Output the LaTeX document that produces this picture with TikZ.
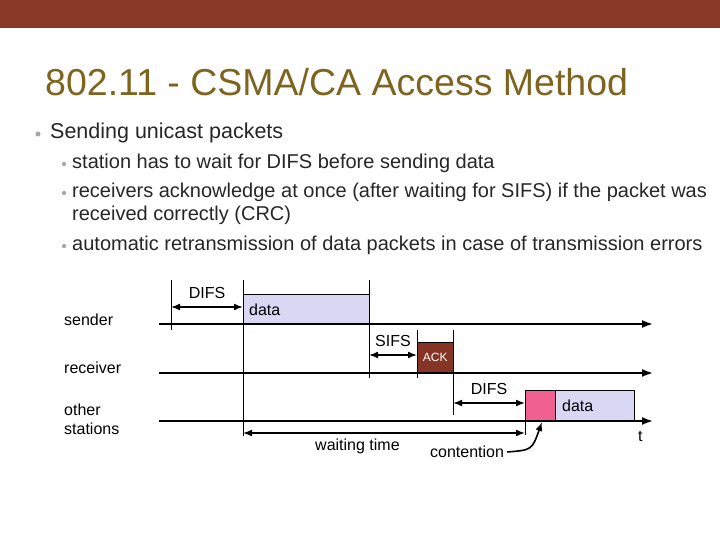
\documentclass[tikz,border=0pt]{standalone}
\usepackage{fontspec}
\setmainfont{Liberation Sans}
\usetikzlibrary{arrows.meta}
\begin{document}
\begin{tikzpicture}[x=1pt,y=-1pt,
  lbl/.style={inner sep=0,anchor=west,font=\fontsize{16}{19}\selectfont},
  axis/.style={line width=1.8pt,-{Latex[length=11pt,width=8pt]}},
  tick/.style={line width=0.7pt},
  dim/.style={line width=1.6pt,{Latex[length=9pt,width=7pt]}-{Latex[length=9pt,width=7pt]}},
  box/.style={draw,line width=0.6pt},
  bul/.style={inner sep=0,anchor=west,text=black!85},
  dot/.style={circle,fill=gray!70,inner sep=1.8pt}]
\useasboundingbox (0,0) rectangle (720,540);
\fill[fill={rgb,255:red,137;green,55;blue,39}] (0,0) rectangle (720,28);
\node[inner sep=0,anchor=west,text={rgb,255:red,126;green,100;blue,30},font=\fontsize{37.5}{44}\selectfont] (title) at (45,82) {802.11 - CSMA/CA Access Method};
\node[dot] (d1) at (38,134) {};
\node[bul,font=\fontsize{21.5}{26}\selectfont] (b1) at (50,133) {Sending unicast packets};
\node[dot,inner sep=1.5pt] (d2) at (64,164) {};
\node[bul,font=\fontsize{20}{23}\selectfont] (s1) at (72,163) {station has to wait for DIFS before sending data};
\node[dot,inner sep=1.5pt] (d3) at (64,193) {};
\node[bul,font=\fontsize{20}{23}\selectfont] (s2) at (72,192) {receivers acknowledge at once (after waiting for SIFS) if the packet was};
\node[bul,font=\fontsize{20}{23}\selectfont] (s2b) at (72,215) {received correctly (CRC)};
\node[dot,inner sep=1.5pt] (d4) at (64,246) {};
\node[bul,font=\fontsize{20}{23}\selectfont] (s3) at (72,245) {automatic retransmission of data packets in case of transmission errors};
% row labels
\node[lbl] (ls) at (64,320) {sender};
\node[lbl] (lr) at (64,368) {receiver};
\node[lbl,align=left] (lo) at (64,419) {other\\stations};
% boxes
\node[box,fill={rgb,255:red,216;green,216;blue,244},minimum width=126,minimum height=30,anchor=north west,inner sep=0] (data1) at (243,294) {};
\node[lbl] (data1t) at (249,310) {data};
\node[box,fill={rgb,255:red,134;green,52;blue,36},minimum width=36,minimum height=31,anchor=north west,inner sep=0,text=white,font=\fontsize{12}{14}\selectfont] (ack) at (417,342) {ACK};
\node[box,fill={rgb,255:red,240;green,96;blue,144},minimum width=30,minimum height=30,anchor=north west,inner sep=0] (pink) at (525,390) {};
\node[box,fill={rgb,255:red,216;green,216;blue,244},minimum width=79,minimum height=30,anchor=north west,inner sep=0] (data2) at (555,390) {};
\node[lbl] (data2t) at (562,406) {data};
% ticks
\coordinate (t1a) at (171,280); \coordinate (t1b) at (171,330);
\coordinate (t2a) at (243,280); \coordinate (t2b) at (243,436);
\coordinate (t3a) at (369,280); \coordinate (t3b) at (369,378);
\coordinate (t4a) at (417,330); \coordinate (t4b) at (417,378);
\coordinate (t5a) at (453,330); \coordinate (t5b) at (453,415);
\coordinate (t6a) at (525,390); \coordinate (t6b) at (525,435);
\foreach \a/\b in {t1a/t1b,t2a/t2b,t3a/t3b,t4a/t4b,t5a/t5b,t6a/t6b} \draw[tick] (\a) -- (\b);
% axes
\coordinate (s0) at (159,324); \coordinate (s1e) at (653,324);
\coordinate (r0) at (159,373); \coordinate (r1e) at (653,373);
\coordinate (o0) at (159,421); \coordinate (o1e) at (653,421);
\draw[axis] (s0) -- (s1e);
\draw[axis] (r0) -- (r1e);
\draw[axis] (o0) -- (o1e);
\node[lbl] (tt) at (638,436) {t};
% dims
\coordinate (a1) at (171,307); \coordinate (a2) at (243,307);
\draw[dim] (a1) -- (a2) node[midway,above=4pt,font=\fontsize{16}{19}\selectfont] (difs1) {DIFS};
\coordinate (b1a) at (369,355); \coordinate (b2a) at (417,355);
\draw[dim] (b1a) -- (b2a) node[midway,above=4pt,font=\fontsize{16}{19}\selectfont] (sifs) {SIFS};
\coordinate (c1) at (453,403); \coordinate (c2) at (525,403);
\draw[dim] (c1) -- (c2) node[midway,above=4pt,font=\fontsize{16}{19}\selectfont] (difs2) {DIFS};
\coordinate (w1) at (243,433); \coordinate (w2) at (525,433);
\draw[dim] (w1) -- (w2);
\node[lbl] (wt) at (315,446) {waiting time};
\node[lbl] (ct) at (430,452) {contention};
\coordinate (cend) at (542,422);
\draw[line width=1.6pt,-{Latex[length=9pt,width=7pt]}] (ct.east)++(3,0) .. controls (532,450) .. (cend);
\end{tikzpicture}
\end{document}
